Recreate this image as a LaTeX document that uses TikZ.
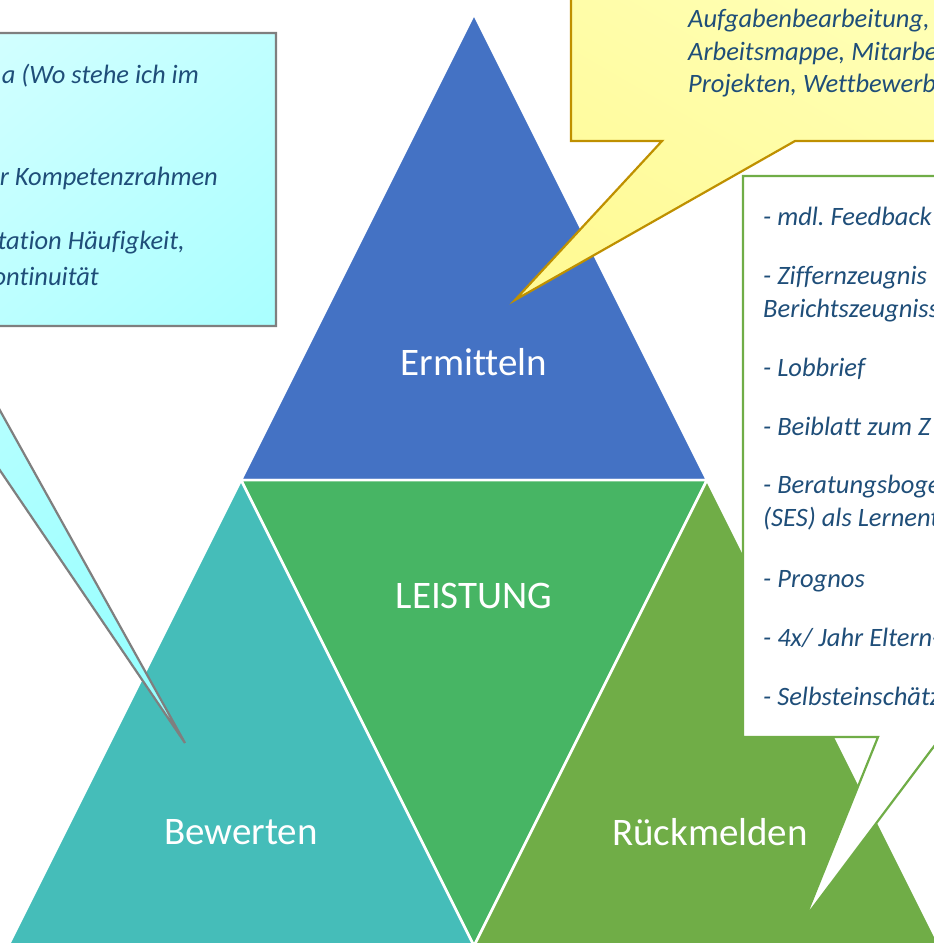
\documentclass[tikz,border=0pt]{standalone}
\usepackage{fontspec}
\setmainfont{Carlito}[Ligatures=NoCommon]
\frenchspacing
\definecolor{ermBlue}{HTML}{4472C4}
\definecolor{leiGreen}{HTML}{47B564}
\definecolor{bewTeal}{HTML}{45BDB9}
\definecolor{rueGreen}{HTML}{70AD47}
\definecolor{noteText}{HTML}{1F4E79}
\definecolor{goldLine}{HTML}{BF9000}
\definecolor{yelLight}{HTML}{FFFFB4}
\definecolor{yelDeep}{HTML}{FFFA96}
\definecolor{cyaLight}{HTML}{D2FFFF}
\definecolor{cyaDeep}{HTML}{96FFFF}
\definecolor{greyLine}{HTML}{7F7F7F}
\tikzset{
  tri/.style={draw=white, line width=2.5pt, line join=round},
  lbl/.style={font=\fontsize{39}{46}\selectfont, text=white, inner sep=0pt},
  note/.style={font=\fontsize{26.5}{33}\selectfont\itshape, text=noteText, inner sep=0pt},
  callout/.style={line width=2.2pt, line join=miter},
}
\begin{document}
\begin{tikzpicture}[x=1pt,y=-1pt]
\useasboundingbox (0,0) rectangle (934,943);
\clip (0,0) rectangle (934,943);

% the four triangles of the pyramid
\path[tri, fill=ermBlue]  (474,14)  -- (241,480) -- (707,480) -- cycle;
\path[tri, fill=leiGreen] (241,480) -- (707,480) -- (474,946) -- cycle;
\path[tri, fill=bewTeal]  (241,480) -- (474,946) -- (8,946)   -- cycle;
\path[tri, fill=rueGreen] (707,480) -- (940,946) -- (474,946) -- cycle;

\node[lbl] (erm) at (474,362) {Ermitteln};
\node[lbl] (lei) at (474,596) {LEISTUNG};
\node[lbl] (bew) at (241,832) {Bewerten};
\node[lbl] (rue) at (710,832) {Rückmelden};

% yellow callout pointing into the top triangle
\path[callout, draw=goldLine, top color=yelLight, bottom color=yelDeep, shading angle=-30]
  (571,-10) -- (571,141) -- (662,141) -- (515,300) -- (795,141)
  -- (960,141) -- (960,-10) -- cycle;
\node[note, anchor=base west] (y1) at (688,27) {Aufgabenbearbeitung,};
\node[note, anchor=base west] (y2) at (688,60) {Arbeitsmappe, Mitarbe};
\node[note, anchor=base west] (y3) at (688,92) {Projekten, Wettbewerb};

% cyan callout pointing into the left triangle
\path[callout, draw=greyLine, top color=cyaLight, bottom color=cyaDeep, shading angle=40]
  (-200,33) -- (276,33) -- (276,326) -- (-47,326) -- (185,743)
  -- (-98,326) -- (-200,326) -- cycle;
\node[note, anchor=base east] (c1) at (199,83)  {a (Wo stehe ich im};
\node[note, anchor=base east] (c2) at (218,185) {r Kompetenzrahmen};
\node[note, anchor=base east] (c3) at (185,249) {tation Häufigkeit,};
\node[note, anchor=base east] (c4) at (99,285)  {ontinuität};

% white callout pointing into the right triangle
\path[callout, draw=rueGreen, fill=white]
  (743,176) -- (960,176) -- (960,737) -- (941,737) -- (805,918)
  -- (878,737) -- (743,737) -- cycle;
\node[note, anchor=base west] (g1)  at (763,225) {- mdl. Feedback};
\node[note, anchor=base west] (g2)  at (763,284) {- Ziffernzeugnis};
\node[note, anchor=base west] (g3)  at (763,317) {Berichtszeugniss};
\node[note, anchor=base west] (g4)  at (763,376) {- Lobbrief};
\node[note, anchor=base west] (g5)  at (763,435) {- Beiblatt zum Z};
\node[note, anchor=base west] (g6)  at (763,493) {- Beratungsboge};
\node[note, anchor=base west] (g7)  at (763,526) {(SES) als Lernent};
\node[note, anchor=base west] (g8)  at (763,587) {- Prognos};
\node[note, anchor=base west] (g9)  at (763,646) {- 4x/ Jahr Eltern-};
\node[note, anchor=base west] (g10) at (763,705) {- Selbsteinschätz};
\end{tikzpicture}
\end{document}
